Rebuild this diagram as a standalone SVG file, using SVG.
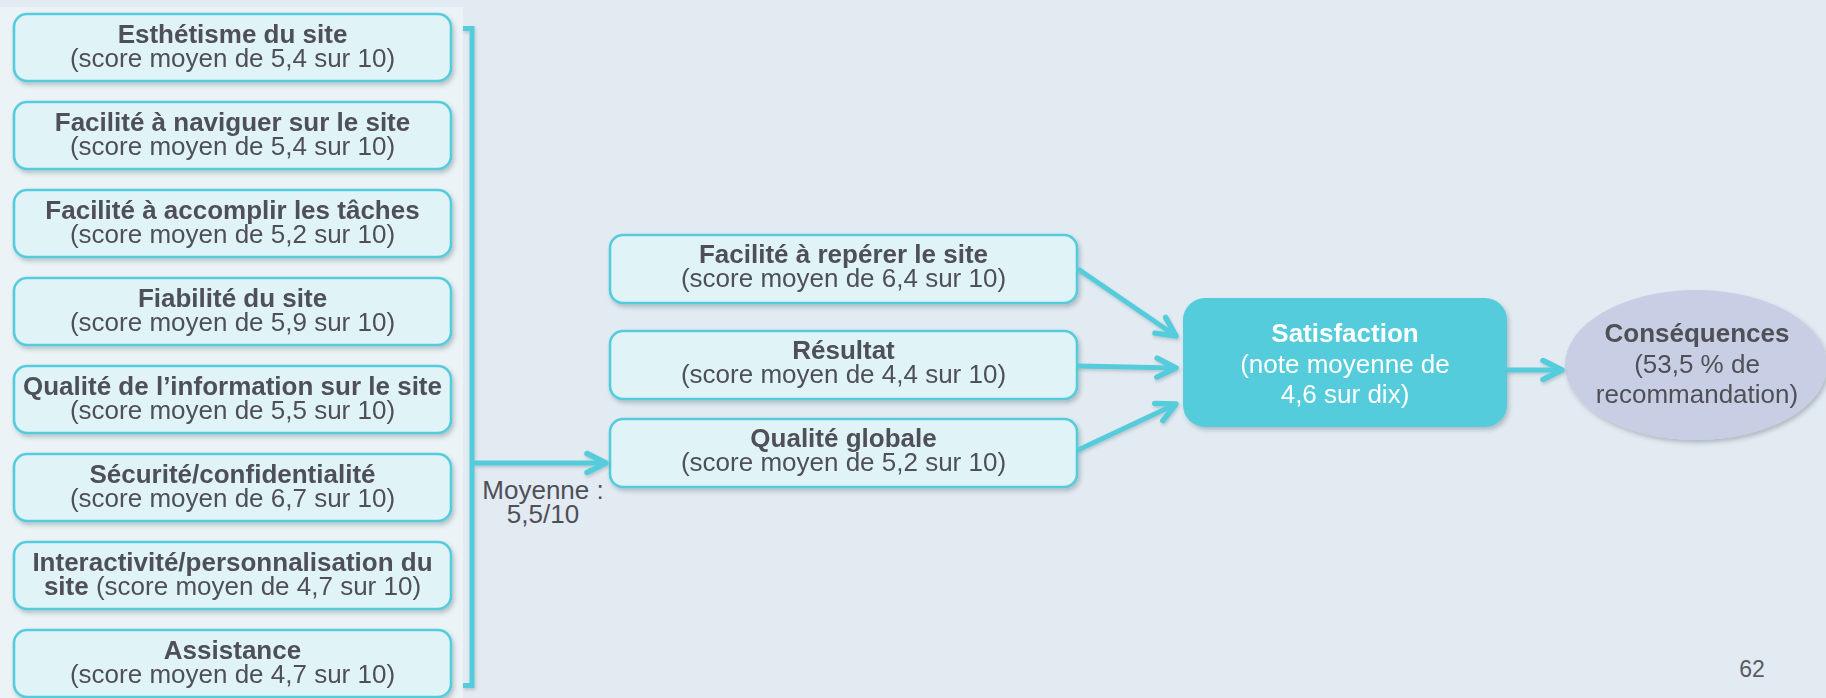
<svg xmlns="http://www.w3.org/2000/svg" width="1826" height="698" viewBox="0 0 1826 698">
  <defs>
    <filter id="shadow" x="-10%" y="-10%" width="120%" height="130%">
      <feDropShadow dx="2" dy="3" stdDeviation="2" flood-color="#30404a" flood-opacity="0.28"/>
    </filter>
    <filter id="lineShadow" x="-10%" y="-20%" width="120%" height="140%">
      <feDropShadow dx="1" dy="2" stdDeviation="1.5" flood-color="#30404a" flood-opacity="0.22"/>
    </filter>
    <marker id="chevron" viewBox="-26 -14 30 28" refX="0" refY="0" markerWidth="30" markerHeight="28" markerUnits="userSpaceOnUse" orient="auto">
      <path d="M-19,-9.5 L0,0 L-19,9.5" fill="none" stroke="#55CCDB" stroke-width="5.5" stroke-linecap="round" stroke-linejoin="round"/>
    </marker>
  </defs>
  <style>
    .box { fill: #E0F4F8; stroke: #55CCDB; stroke-width: 2.6; }
    .t { font-family: "Liberation Sans", Arial, sans-serif; font-size: 26px; fill: #4F4F57; text-anchor: middle; }
    .b { font-weight: bold; }
    .w { fill: #FFFFFF; }
    .conn { fill: none; stroke: #55CCDB; stroke-width: 5; }
  </style>

  <!-- background -->
  <rect x="0" y="0" width="1826" height="698" fill="#E2EAF2"/>
  <rect x="0" y="7" width="463" height="691" fill="#EBF3F7"/>

  <!-- website quality criteria -->
  <g id="esthetisme" filter="url(#shadow)">
    <rect class="box" x="14" y="14" width="437" height="67" rx="13"/>
    <text class="t"><tspan class="b" x="232.5" y="43">Esthétisme du site</tspan><tspan x="232.5" y="67">(score moyen de 5,4 sur 10)</tspan></text>
  </g>
  <g id="navigation" filter="url(#shadow)">
    <rect class="box" x="14" y="102" width="437" height="67" rx="13"/>
    <text class="t"><tspan class="b" x="232.5" y="131">Facilité à naviguer sur le site</tspan><tspan x="232.5" y="155">(score moyen de 5,4 sur 10)</tspan></text>
  </g>
  <g id="taches" filter="url(#shadow)">
    <rect class="box" x="14" y="190" width="437" height="67" rx="13"/>
    <text class="t"><tspan class="b" x="232.5" y="219">Facilité à accomplir les tâches</tspan><tspan x="232.5" y="243">(score moyen de 5,2 sur 10)</tspan></text>
  </g>
  <g id="fiabilite" filter="url(#shadow)">
    <rect class="box" x="14" y="278" width="437" height="67" rx="13"/>
    <text class="t"><tspan class="b" x="232.5" y="307">Fiabilité du site</tspan><tspan x="232.5" y="331">(score moyen de 5,9 sur 10)</tspan></text>
  </g>
  <g id="information" filter="url(#shadow)">
    <rect class="box" x="14" y="366" width="437" height="67" rx="13"/>
    <text class="t"><tspan class="b" x="232.5" y="395">Qualité de l’information sur le site</tspan><tspan x="232.5" y="419">(score moyen de 5,5 sur 10)</tspan></text>
  </g>
  <g id="securite" filter="url(#shadow)">
    <rect class="box" x="14" y="454" width="437" height="67" rx="13"/>
    <text class="t"><tspan class="b" x="232.5" y="483">Sécurité/confidentialité</tspan><tspan x="232.5" y="507">(score moyen de 6,7 sur 10)</tspan></text>
  </g>
  <g id="interactivite" filter="url(#shadow)">
    <rect class="box" x="14" y="542" width="437" height="67" rx="13"/>
    <text class="t"><tspan class="b" x="232.5" y="571">Interactivité/personnalisation du</tspan></text>
    <text class="t" x="232.5" y="595"><tspan class="b">site</tspan> (score moyen de 4,7 sur 10)</text>
  </g>
  <g id="assistance" filter="url(#shadow)">
    <rect class="box" x="14" y="630" width="437" height="67" rx="13"/>
    <text class="t"><tspan class="b" x="232.5" y="659">Assistance</tspan><tspan x="232.5" y="683">(score moyen de 4,7 sur 10)</tspan></text>
  </g>

  <!-- intermediate factors -->
  <g id="reperer" filter="url(#shadow)">
    <rect class="box" x="610" y="235" width="467" height="68" rx="13"/>
    <text class="t"><tspan class="b" x="843.5" y="263">Facilité à repérer le site</tspan><tspan x="843.5" y="287">(score moyen de 6,4 sur 10)</tspan></text>
  </g>
  <g id="resultat" filter="url(#shadow)">
    <rect class="box" x="610" y="331" width="467" height="68" rx="13"/>
    <text class="t"><tspan class="b" x="843.5" y="359">Résultat</tspan><tspan x="843.5" y="383">(score moyen de 4,4 sur 10)</tspan></text>
  </g>
  <g id="qualite-globale" filter="url(#shadow)">
    <rect class="box" x="610" y="419" width="467" height="68" rx="13"/>
    <text class="t"><tspan class="b" x="843.5" y="447">Qualité globale</tspan><tspan x="843.5" y="471">(score moyen de 5,2 sur 10)</tspan></text>
  </g>

  <!-- outcome -->
  <g id="satisfaction" filter="url(#shadow)">
    <rect x="1183" y="298" width="324" height="129" rx="22" fill="#55CCDB"/>
    <text class="t w"><tspan class="b" x="1345" y="342">Satisfaction</tspan><tspan x="1345" y="373">(note moyenne de</tspan><tspan x="1345" y="403">4,6 sur dix)</tspan></text>
  </g>
  <g id="consequences" filter="url(#shadow)">
    <ellipse cx="1696" cy="365" rx="131" ry="75" fill="#C8CFE4"/>
    <text class="t"><tspan class="b" x="1697" y="342">Conséquences</tspan><tspan x="1697" y="373">(53,5 % de</tspan><tspan x="1697" y="403">recommandation)</tspan></text>
  </g>

  <!-- connectors -->
  <g id="connectors" filter="url(#lineShadow)">
    <path class="conn" d="M463,28.5 H472 V685.5 H463" stroke-width="4.5"/>
    <path class="conn" d="M472,463 H606" marker-end="url(#chevron)"/>
    <path class="conn" d="M1078,269 L1176,336" marker-end="url(#chevron)"/>
    <path class="conn" d="M1078,366 L1176,368" marker-end="url(#chevron)"/>
    <path class="conn" d="M1078,450 L1176,404" marker-end="url(#chevron)"/>
    <path class="conn" d="M1507,370 H1562" marker-end="url(#chevron)"/>
  </g>

  <!-- average of the criteria -->
  <text class="t" fill="#4F4F57"><tspan x="543" y="499">Moyenne :</tspan><tspan x="543" y="523">5,5/10</tspan></text>

  <!-- page number -->
  <text x="1752" y="677" font-family="Liberation Sans, Arial, sans-serif" font-size="23" fill="#5A5A60" text-anchor="middle">62</text>
</svg>
